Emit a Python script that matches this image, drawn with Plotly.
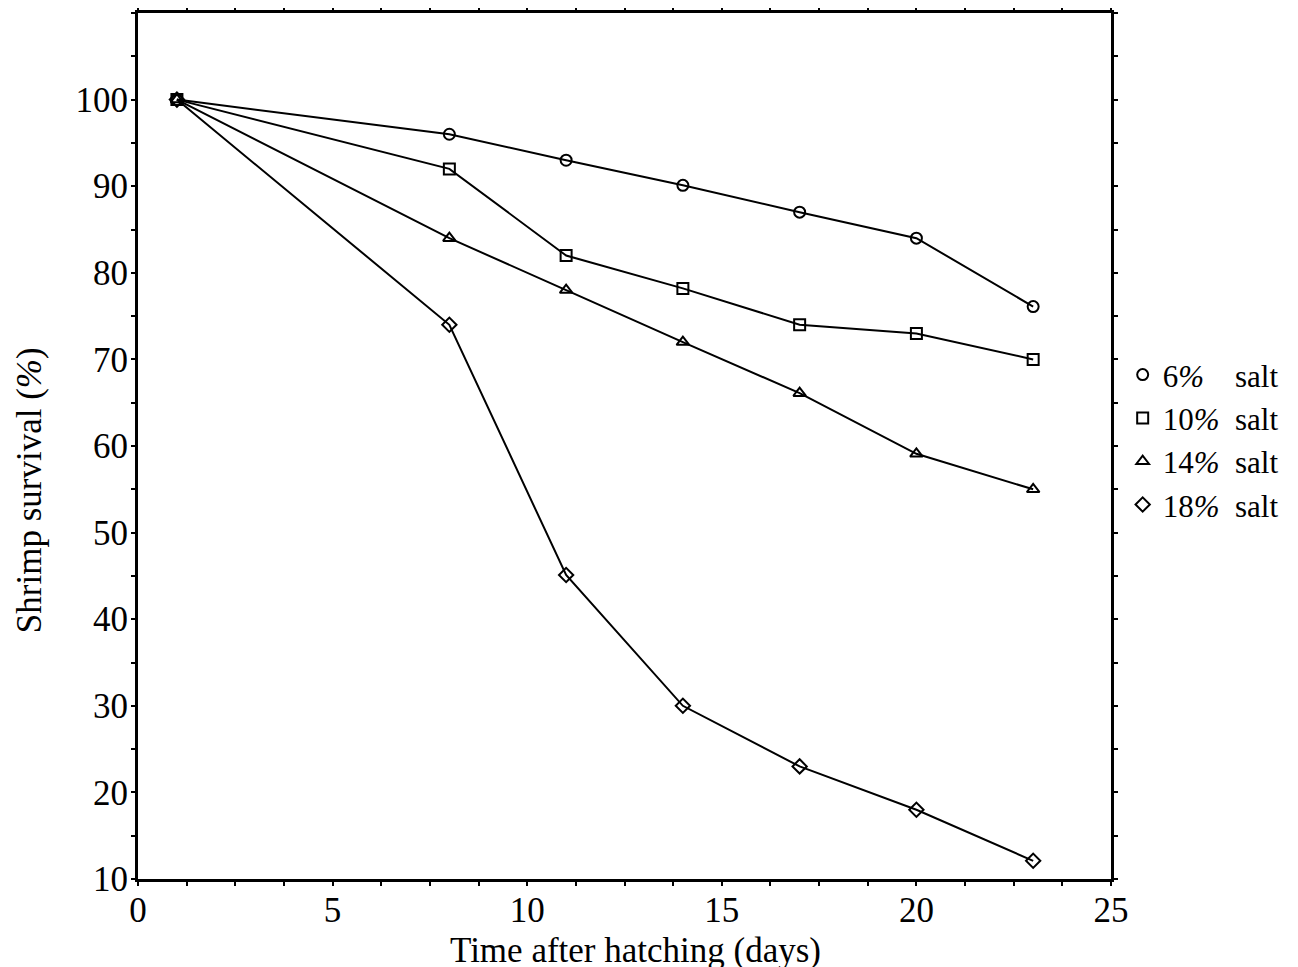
import plotly.graph_objects as go

days = [1, 8, 11, 14, 17, 20, 23]
salt_6 = [100, 96, 93, 90.1, 87, 84, 76.1]
salt_10 = [100, 92, 82, 78.2, 74, 73, 70]
salt_14 = [100, 84, 78, 72, 66.1, 59.1, 55]
salt_18 = [100, 74, 45.1, 30, 23, 18, 12.1]

series_names = ["6<i>%</i>&nbsp;&nbsp;&nbsp;&nbsp;salt", "10<i>%</i>&nbsp;&nbsp;salt",
                "14<i>%</i>&nbsp;&nbsp;salt", "18<i>%</i>&nbsp;&nbsp;salt"]
symbols = ["circle-open", "square-open", "triangle-up-open", "diamond-open"]

x_tickvals = [i * 1.25 for i in range(21)]
x_ticktext = [str(int(v)) if v % 5 == 0 else "" for v in x_tickvals]
y_tickvals = list(range(10, 111, 5))
y_ticktext = [str(v) if v % 10 == 0 and v <= 100 else "" for v in y_tickvals]

FONT = "Liberation Serif"

fig = go.Figure()
for name, vals, sym in zip(series_names, [salt_6, salt_10, salt_14, salt_18], symbols):
    fig.add_trace(go.Scatter(
        x=days, y=vals, name=name, mode="lines+markers", showlegend=False,
        line=dict(color="black", width=2),
        marker=dict(symbol=sym, size=11, color="black", line=dict(color="black", width=2)),
    ))
for name, sym in zip(series_names, symbols):
    fig.add_trace(go.Scatter(
        x=[None], y=[None], name=name, mode="markers", showlegend=True,
        marker=dict(symbol=sym, size=11, color="black", line=dict(color="black", width=2)),
    ))

fig.update_layout(
    width=1298, height=967,
    margin=dict(l=130, r=195, t=5, b=96, autoexpand=False),
    paper_bgcolor="white", plot_bgcolor="white",
    font=dict(family=FONT, size=34, color="black"),
    showlegend=True,
    legend=dict(x=1.012, y=0.507, xanchor="left", yanchor="middle",
                font=dict(family=FONT, size=31), itemwidth=30,
                tracegroupgap=0, bgcolor="rgba(0,0,0,0)"),
    xaxis=dict(range=[0, 25], tickvals=x_tickvals, ticktext=x_ticktext,
               ticks="outside", ticklen=4, tickwidth=2, tickcolor="black",
               showline=True, linewidth=3, linecolor="black", mirror="allticks",
               showgrid=False, zeroline=False, automargin=False,
               ticklabelstandoff=-6,
               tickfont=dict(family=FONT, size=35)),
    yaxis=dict(range=[10, 110], tickvals=y_tickvals, ticktext=y_ticktext,
               ticks="outside", ticklen=4, tickwidth=2, tickcolor="black",
               showline=True, linewidth=3, linecolor="black", mirror="allticks",
               showgrid=False, zeroline=False, automargin=False,
               ticklabelstandoff=-4,
               tickfont=dict(family=FONT, size=35)),
    annotations=[
        dict(text="Time after hatching (days)", xref="paper", yref="paper",
             x=0.511, y=-0.082, xanchor="center", yanchor="middle", showarrow=False,
             font=dict(family=FONT, size=35)),
        dict(text="Shrimp survival (<i>%</i>)", xref="paper", yref="paper",
             x=-0.112, y=0.449, xanchor="center", yanchor="middle", showarrow=False,
             textangle=-90, font=dict(family=FONT, size=35)),
    ],
)

fig.write_html("out.html")
